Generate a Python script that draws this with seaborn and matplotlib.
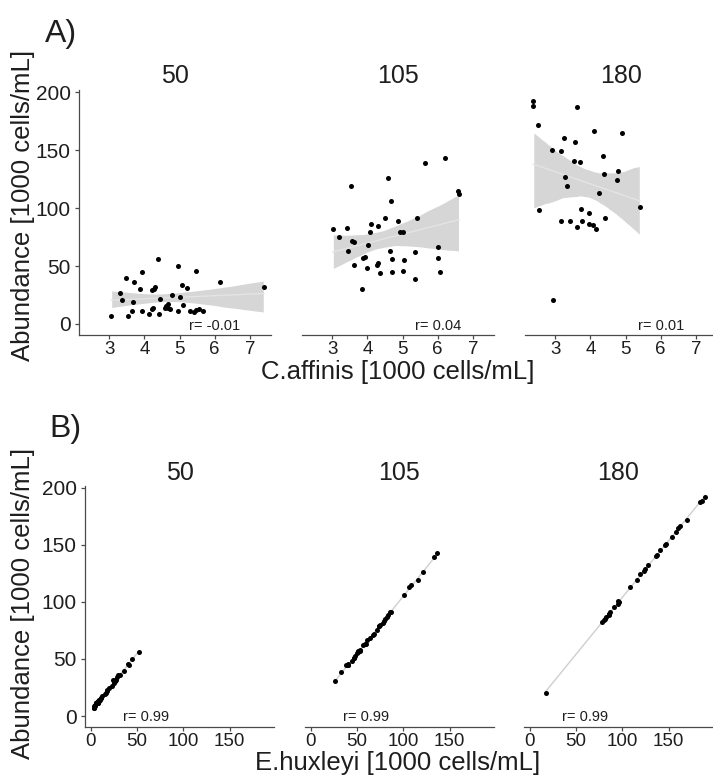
import numpy as np
import pandas as pd
import matplotlib
matplotlib.use("Agg")
import matplotlib.pyplot as plt
from matplotlib.collections import PathCollection
import seaborn as sns

# ---------------- data ----------------
facets = ["50", "105", "180"]

affinis_50 = [3.05, 3.32, 3.36, 3.49, 3.54, 3.65, 3.68, 3.71, 3.88, 3.92, 3.93, 4.12, 4.21, 4.23,
              4.26, 4.31, 4.25, 4.38, 4.41, 4.44, 4.59, 4.62, 4.66, 4.68, 4.73, 4.78, 4.96, 4.96,
              5.02, 5.06, 5.09, 5.22, 5.30, 5.40, 5.47, 5.47, 5.54, 5.68, 6.16, 7.40]
abund_50 = [7.1, 26.6, 20.3, 39.7, 7.1, 11.1, 19.4, 36.0, 30.6, 45.1, 11.4, 8.6, 12.9, 29.1,
            30.6, 31.7, 14.0, 56.3, 8.6, 22.0, 13.7, 15.7, 17.4, 13.7, 12.9, 24.6, 50.0, 11.1,
            23.1, 34.0, 16.0, 31.4, 11.4, 10.0, 46.0, 11.7, 12.6, 11.1, 36.0, 32.0]
huxleyi_50 = [4.0, 23.3, 16.9, 36.2, 3.6, 7.5, 15.7, 32.3, 26.7, 41.2, 7.5, 4.5, 8.7, 24.9,
              26.3, 27.4, 9.8, 51.9, 4.2, 17.6, 9.1, 11.1, 12.7, 9.0, 8.2, 19.8, 45.0, 6.1,
              18.1, 28.9, 10.9, 26.2, 6.1, 4.6, 40.5, 6.2, 7.1, 5.4, 29.8, 24.6]

affinis_105 = [3.01, 3.20, 3.41, 3.44, 3.52, 3.56, 3.63, 3.63, 3.86, 3.87, 3.94, 3.99, 4.02, 4.06,
               4.10, 4.26, 4.31, 4.30, 4.35, 4.50, 4.59, 4.65, 4.67, 4.69, 4.70, 4.87, 4.93, 5.00,
               5.02, 5.05, 5.35, 5.36, 5.40, 5.65, 6.01, 6.01, 6.07, 6.20, 6.57, 6.61]
abund_105 = [81.7, 75.4, 82.9, 63.4, 119.1, 72.0, 71.1, 50.6, 30.6, 57.4, 57.7, 48.3, 68.6, 79.4,
             86.6, 51.1, 52.6, 84.6, 44.3, 91.4, 126.3, 62.9, 106.0, 56.0, 45.1, 88.6, 79.1, 79.1,
             45.7, 55.4, 38.6, 62.0, 91.4, 139.1, 66.6, 56.9, 44.6, 142.9, 115.1, 112.6]
huxleyi_105 = [78.7, 72.2, 79.5, 60.0, 115.6, 68.4, 67.5, 47.0, 26.7, 53.5, 53.8, 44.3, 64.6, 75.3,
               82.5, 46.8, 48.3, 80.3, 40.0, 86.9, 121.7, 58.3, 101.3, 51.3, 40.4, 83.7, 74.2, 74.1,
               40.7, 50.4, 33.3, 56.6, 86.0, 133.5, 60.6, 50.9, 38.5, 136.7, 108.5, 106.0]

affinis_180 = [2.37, 2.37, 2.51, 2.55, 2.91, 2.95, 3.16, 3.17, 3.24, 3.28, 3.33, 3.42, 3.54, 3.57,
               3.62, 3.63, 3.69, 3.73, 3.75, 3.95, 3.96, 4.06, 4.10, 4.16, 4.25, 4.35, 4.40, 4.41,
               4.77, 4.79, 4.91, 5.41]
abund_180 = [192.3, 188.6, 172.0, 98.3, 150.6, 20.3, 88.6, 149.4, 160.9, 126.9, 119.4, 89.1, 141.1, 156.9,
             187.4, 84.0, 140.0, 99.7, 89.1, 95.4, 86.6, 85.4, 166.9, 82.0, 112.9, 145.1, 129.1, 91.4,
             124.0, 132.3, 165.1, 101.1]
huxleyi_180 = [189.9, 186.2, 169.5, 95.8, 147.7, 17.4, 85.4, 146.2, 157.7, 123.6, 116.1, 85.7, 137.6, 153.3,
               183.8, 80.4, 136.3, 96.0, 85.4, 91.5, 82.6, 81.3, 162.8, 77.8, 108.7, 140.8, 124.7, 87.0,
               119.2, 127.5, 160.2, 95.7]

r_affinis = ["r= -0.01", "r= 0.04", "r= 0.01"]
r_huxleyi = ["r= 0.99", "r= 0.99", "r= 0.99"]

yticks = [0, 50, 100, 150, 200]
xticks_a = [3, 4, 5, 6, 7]
xticks_b = [0, 50, 100, 150]

# long-form table
frames = []
for f, a, ab, h in [("50", affinis_50, abund_50, huxleyi_50),
                    ("105", affinis_105, abund_105, huxleyi_105),
                    ("180", affinis_180, abund_180, huxleyi_180)]:
    frames.append(pd.DataFrame({"facet": f, "affinis": a, "abundance": ab, "huxleyi": h}))
df = pd.concat(frames, ignore_index=True)

# ---------------- style ----------------
sns.set_style("white")
plt.rcParams["font.family"] = ["Liberation Sans", "DejaVu Sans"]
plt.rcParams["axes.linewidth"] = 0.9

W, H = 713, 776
fig = plt.figure(figsize=(W / 100, H / 100), dpi=100)

AXC = "#4a4a4a"
TXT = "#1e1e1e"


def add_ax(left, top, right, bottom):
    return fig.add_axes([left / W, 1 - bottom / H, (right - left) / W, (bottom - top) / H])


def style(ax, first, xticks, xlim, ylim):
    ax.set_xlim(*xlim)
    ax.set_ylim(*ylim)
    ax.set_xticks(xticks)
    ax.set_yticks(yticks)
    for s in ["top", "right"]:
        ax.spines[s].set_visible(False)
    ax.spines["bottom"].set_color(AXC)
    ax.spines["left"].set_color(AXC)
    ax.tick_params(axis="x", direction="out", length=3, width=0.9, color=AXC,
                   labelsize=13.5, labelcolor=TXT, pad=1.5, bottom=True)
    if first:
        ax.tick_params(axis="y", direction="out", length=3, width=0.9, color=AXC,
                       labelsize=15, labelcolor=TXT, pad=3, left=True)
    else:
        ax.spines["left"].set_visible(False)
        ax.tick_params(axis="y", left=False, labelleft=False)
    ax.set_xlabel("")
    ax.set_ylabel("")
    ax.grid(False)


def draw(ax, sub, xcol, line_color, band_color):
    sns.regplot(data=sub, x=xcol, y="abundance", ax=ax, ci=95, n_boot=2000, seed=3,
                truncate=True,
                scatter_kws=dict(s=13, color="black", linewidths=0, alpha=1),
                line_kws=dict(color=line_color, lw=1.0))
    for c in ax.collections:
        if isinstance(c, PathCollection):
            c.set_zorder(3)
        else:
            c.set_facecolor(band_color)
            c.set_alpha(1)
            c.set_zorder(1)
    for ln in ax.lines:
        ln.set_zorder(2)


# Panel A
pos_a = [(79, 271), (302, 494), (525, 717)]
for i, f in enumerate(facets):
    l, r = pos_a[i]
    ax = add_ax(l, 90, r, 335)
    sub = df[df["facet"] == f]
    draw(ax, sub, "affinis", "#e4e4e4", "#d6d6d6")
    style(ax, i == 0, xticks_a, (2.14, 7.6), (-9.5, 202))
    ax.text(6.0, -1.5, r_affinis[i], ha="center", va="center", fontsize=10.5, color=TXT)
    fig.text(((l + r) / 2) / W, 1 - 83 / H, f, ha="center", va="baseline",
             fontsize=18, color=TXT)

# Panel B
pos_b = [(85, 274), (305, 494), (524, 713)]
for i, f in enumerate(facets):
    l, r = pos_b[i]
    ax = add_ax(l, 486, r, 727)
    sub = df[df["facet"] == f]
    draw(ax, sub, "huxleyi", "#cfcfcf", "#d6d6d6")
    style(ax, i == 0, xticks_b, (-6, 198), (-9.6, 201.5))
    ax.text(60, -1, r_huxleyi[i], ha="center", va="center", fontsize=10.5, color=TXT)
    fig.text(((l + r) / 2) / W, 1 - 480 / H, f, ha="center", va="baseline",
             fontsize=18, color=TXT)

# Labels
fig.text(45 / W, 1 - 42 / H, "A)", ha="left", va="baseline", fontsize=23, color=TXT)
fig.text(49 / W, 1 - 437 / H, "B)", ha="left", va="baseline", fontsize=23, color=TXT)

fig.text(23 / W, 1 - 205 / H, "Abundance [1000 cells/mL]", rotation=90,
         ha="center", va="center", fontsize=18.5, color=TXT)
fig.text(23 / W, 1 - 603 / H, "Abundance [1000 cells/mL]", rotation=90,
         ha="center", va="center", fontsize=18.5, color=TXT)

fig.text(398 / W, 1 - 379 / H, "C.affinis [1000 cells/mL]", ha="center", va="baseline",
         fontsize=18.5, color=TXT)
fig.text(398 / W, 1 - 770 / H, "E.huxleyi [1000 cells/mL]", ha="center", va="baseline",
         fontsize=18.5, color=TXT)

fig.savefig("out.png", dpi=100)
